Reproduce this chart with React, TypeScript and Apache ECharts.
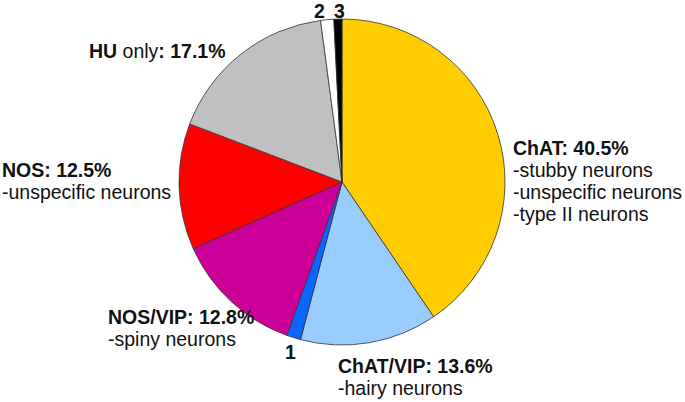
import React, { useEffect, useRef } from "react";
import * as echarts from "echarts";

const names = ["ChAT", "ChAT/VIP", "1", "NOS/VIP", "NOS", "HU only", "2", "3"];
const values = [40.5, 13.6, 1.4, 12.8, 12.5, 17.1, 1.3, 0.8];
const colors = ["#FFCC00", "#99CCFF", "#0A66FF", "#CC0099", "#FF0000", "#C0C0C0", "#FFFFFF", "#000000"];
const subLines: string[][] = [
  ["-stubby neurons", "-unspecific neurons", "-type II neurons"],
  ["-hairy neurons"],
  [],
  ["-spiny neurons"],
  ["-unspecific neurons"],
  [],
  [],
  [],
];
const labelPos: [number, number][] = [
  [513, 137],
  [338, 355],
  [285, 341],
  [108, 306],
  [2, 159],
  [89, 40],
  [314, 0],
  [334, 0],
];

const FONT = "'Liberation Sans', Arial, sans-serif";

export default function App() {
  const ref = useRef<HTMLDivElement>(null);
  useEffect(() => {
    if (!ref.current) return;
    const chart = echarts.init(ref.current, undefined, { renderer: "svg" });
    chart.setOption({
      animation: false,
      textStyle: { fontFamily: FONT },
      series: [
        {
          type: "pie",
          center: [342, 182],
          radius: 163,
          startAngle: 90,
          clockwise: true,
          avoidLabelOverlap: false,
          data: names.map((n, i) => ({
            name: n,
            value: values[i],
            itemStyle: { color: colors[i] },
          })),
          itemStyle: { borderColor: "#333333", borderWidth: 0.8 },
          labelLine: { show: false },
          label: {
            show: true,
            position: "outside",
            overflow: "none",
            color: "#111111",
            fontSize: 19.5,
            lineHeight: 22,
            fontFamily: FONT,
            formatter: (p: any) => {
              const i = p.dataIndex;
              const n = names[i];
              let first: string;
              if (n.length === 1) first = `{b|${n}}`;
              else if (n === "HU only") first = `{b|HU}{n| only}{b|: ${values[i].toFixed(1)}%}`;
              else first = `{b|${n}: ${values[i].toFixed(1)}%}`;
              return [first, ...subLines[i].map((s) => `{n|${s}}`)].join("\n");
            },
            rich: {
              b: { fontWeight: "bold", fontSize: 19.5, lineHeight: 22, color: "#111111", fontFamily: FONT },
              n: { fontWeight: "normal", fontSize: 19.5, lineHeight: 22, color: "#111111", fontFamily: FONT },
            },
          },
          labelLayout: (p: any) => ({
            x: labelPos[p.dataIndex][0],
            y: labelPos[p.dataIndex][1],
            align: "left",
            verticalAlign: "top",
          }),
        },
      ],
    });
    return () => chart.dispose();
  }, []);
  return (
    <div
      ref={ref}
      style={{ position: "absolute", left: 0, top: 0, width: 685, height: 402 }}
    />
  );
}
